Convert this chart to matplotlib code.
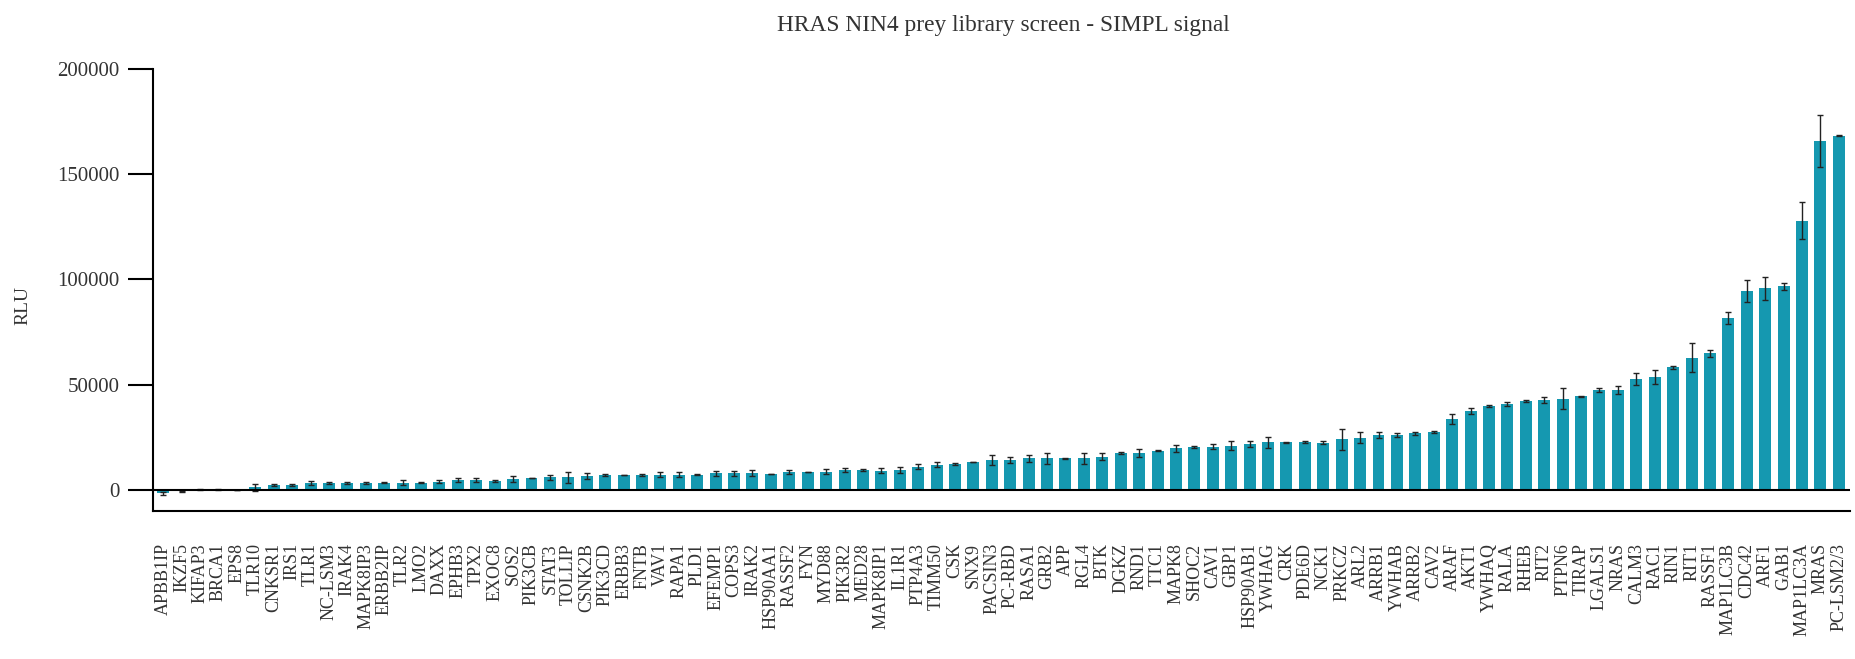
import matplotlib
matplotlib.use("Agg")
import matplotlib.pyplot as plt
import numpy as np

plt.rcParams['font.family'] = ['Liberation Serif', 'DejaVu Serif']

# prey genes, sorted by signal
genes = ['APBB1IP', 'IKZF5', 'KIFAP3', 'BRCA1', 'EPS8', 'TLR10', 'CNKSR1', 'IRS1', 'TLR1', 'NC-LSM3',
         'IRAK4', 'MAPK8IP3', 'ERBB2IP', 'TLR2', 'LMO2', 'DAXX', 'EPHB3', 'TPX2', 'EXOC8', 'SOS2',
         'PIK3CB', 'STAT3', 'TOLLIP', 'CSNK2B', 'PIK3CD', 'ERBB3', 'FNTB', 'VAV1', 'RAPA1', 'PLD1',
         'EFEMP1', 'COPS3', 'IRAK2', 'HSP90AA1', 'RASSF2', 'FYN', 'MYD88', 'PIK3R2', 'MED28', 'MAPK8IP1',
         'IL1R1', 'PTP4A3', 'TIMM50', 'CSK', 'SNX9', 'PACSIN3', 'PC-RBD', 'RASA1', 'GRB2', 'APP',
         'RGL4', 'BTK', 'DGKZ', 'RND1', 'TTC1', 'MAPK8', 'SHOC2', 'CAV1', 'GBP1', 'HSP90AB1',
         'YWHAG', 'CRK', 'PDE6D', 'NCK1', 'PRKCZ', 'ARL2', 'ARRB1', 'YWHAB', 'ARRB2', 'CAV2',
         'ARAF', 'AKT1', 'YWHAQ', 'RALA', 'RHEB', 'RIT2', 'PTPN6', 'TIRAP', 'LGALS1', 'NRAS',
         'CALM3', 'RAC1', 'RIN1', 'RIT1', 'RASSF1', 'MAP1LC3B', 'CDC42', 'ARF1', 'GAB1', 'MAP1LC3A',
         'MRAS', 'PC-LSM2/3']

rlu = [-1600, -600, 200, 200, 0, 1300, 2400, 2400, 3200, 3200,
       3200, 3500, 3500, 3500, 3500, 4000, 4700, 4700, 4300, 5300,
       5500, 6000, 6000, 6500, 7000, 7000, 7000, 7200, 7300, 7300,
       7900, 8000, 8000, 7500, 8400, 8400, 8700, 9500, 9500, 9200,
       9500, 11000, 12000, 12200, 13500, 14200, 14200, 15000, 15000, 15000,
       15000, 15800, 17400, 17400, 18700, 19800, 20600, 20600, 21100, 21900,
       22600, 22600, 22800, 22500, 24000, 24900, 26100, 26100, 26900, 27700,
       33700, 37500, 40000, 40700, 42300, 42700, 43400, 44400, 47700, 47600,
       52800, 53600, 58300, 62800, 65000, 81600, 94400, 95900, 96700, 128000,
       165700, 168400]

err = [700, 300, 300, 300, 0, 1700, 400, 400, 1000, 400,
       400, 500, 400, 1000, 400, 800, 900, 900, 400, 1500,
       0, 1200, 2500, 1350, 500, 0, 400, 1200, 1100, 400,
       1200, 1200, 1600, 0, 950, 0, 1100, 1100, 500, 1350,
       1350, 1200, 1100, 400, 0, 2400, 1300, 1600, 2700, 300,
       2500, 1600, 500, 1900, 300, 1600, 500, 1300, 2300, 1350,
       2600, 300, 400, 700, 5000, 2500, 1300, 800, 600, 500,
       2300, 1600, 400, 950, 400, 1300, 5000, 400, 950, 2000,
       2900, 3300, 800, 6900, 1600, 2900, 5150, 5500, 1700, 8900,
       12500, 300]

x = np.arange(len(genes))

fig = plt.figure(figsize=(18.56, 6.59), dpi=100)
ax = fig.add_axes([0.0824, 0.2246, 0.9144, 0.6707])

ax.bar(x, rlu, width=0.65, color='#1598b0', zorder=2)
ax.errorbar(x, rlu, yerr=err, fmt='none', ecolor='#222222', elinewidth=1,
            capsize=2.5, capthick=1, zorder=3)
ax.axhline(0, color='black', lw=1.5, zorder=4)

ax.set_xlim(-0.56, len(genes) - 1 + 0.61)
ax.set_ylim(-10000, 200000)
ax.set_yticks([0, 50000, 100000, 150000, 200000])
ax.set_xticks(x)
ax.set_xticklabels(genes, rotation=90, fontsize=13, color='#333333')

ax.spines['top'].set_visible(False)
ax.spines['right'].set_visible(False)
ax.spines['left'].set_linewidth(1.5)
ax.spines['bottom'].set_linewidth(1.5)
ax.spines['left'].set_bounds(-10000, 200000)
ax.tick_params(axis='y', length=18, width=1.5, pad=6, labelsize=15, labelcolor='#333333')
ax.tick_params(axis='x', length=0, pad=23)

ax.set_ylabel('RLU', fontsize=14, color='#333333')
ax.yaxis.set_label_coords(-0.0715, 0.466)
fig.text(0.5405, 0.962, 'HRAS NIN4 prey library screen - SIMPL signal',
         ha='center', va='center', fontsize=16.8, color='#333333')

plt.savefig('out.png', dpi=100)
